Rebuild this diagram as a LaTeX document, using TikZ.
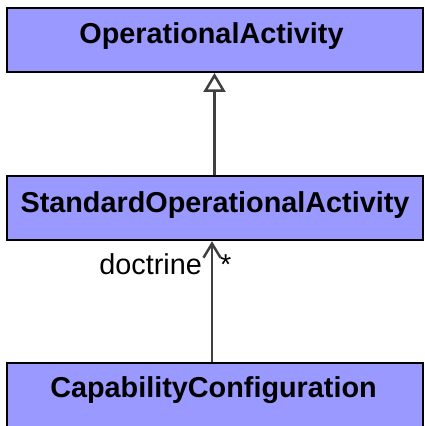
\documentclass[tikz,border=0pt]{standalone}
\usepackage{fontspec}
\setmainfont{Liberation Sans}
\usetikzlibrary{arrows.meta}
\definecolor{boxfill}{HTML}{9999FF}
\definecolor{conn}{HTML}{404040}
\begin{document}
\begin{tikzpicture}[x=1pt,y=1pt,
  classbox/.style={draw=black, line width=2pt, fill=boxfill, rectangle, minimum width=416pt, inner sep=0pt},
  title/.style={anchor=base, inner sep=0pt, font=\fontsize{28.8}{30}\selectfont\bfseries},
  lbl/.style={inner sep=0pt, font=\fontsize{28.8}{30}\selectfont},
  conline/.style={draw=conn, line width=2.5pt}]
\useasboundingbox (0,0) rectangle (425,426);
\clip (0,0) rectangle (425,426);
\node[classbox, minimum height=64pt] (oa) at (215,386) {};
\node[title] (oat) at (211.5,382) {OperationalActivity};
\node[classbox, minimum height=64pt] (sa) at (215,217.75) {};
\node[title] (sat) at (215,213) {StandardOperationalActivity};
\node[classbox, minimum height=80pt] (cc) at (215,23) {};
\node[title] (cct) at (213.5,28) {CapabilityConfiguration};
\draw[conline, -{Triangle[open, length=19pt, width=22pt, fill=white]}] ([xshift=-0.5pt]sa.north) -- ([xshift=-0.5pt]oa.south);
\draw[conline, -{Straight Barb[length=14pt, width=17pt]}] ([xshift=-3pt]cc.north) -- ([xshift=-3pt]sa.south);
\node[lbl, anchor=base east] (role) at (202,151) {doctrine};
\node[lbl, anchor=base west] (mult) at (220,151) {*};
\end{tikzpicture}
\end{document}
